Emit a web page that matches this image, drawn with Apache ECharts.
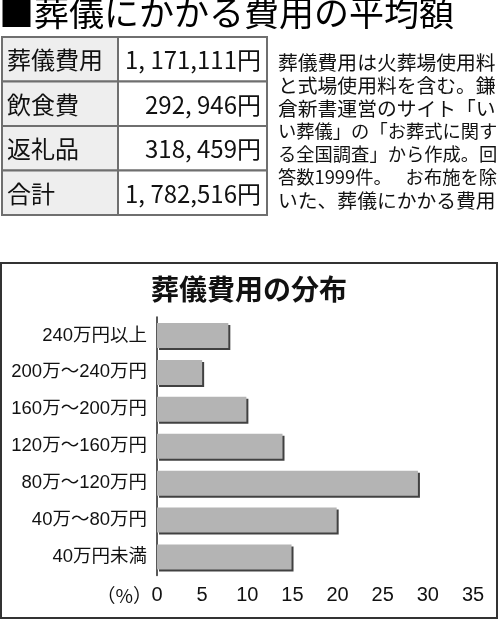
<!DOCTYPE html>
<html lang="ja">
<head>
<meta charset="utf-8">
<title>葬儀にかかる費用の平均額</title>
<script src="https://cdn.jsdelivr.net/npm/echarts@6/dist/echarts.min.js"></script>
<style>
  html, body { margin: 0; padding: 0; background: #fff; }
  #chart { width: 498px; height: 620px; }
</style>
</head>
<body>
<div id="chart"></div>
<script>
// 葬儀にかかる費用の平均額 + 葬儀費用の分布

const headline = '■葬儀にかかる費用の平均額';

const tableLabels = ['葬儀費用', '飲食費', '返礼品', '合計'];
const tableValues = ['1, 171,111円', '292, 946円', '318, 459円', '1, 782,516円'];

const noteLines = [
  '葬儀費用は火葬場使用料',
  'と式場使用料を含む。鎌',
  '倉新書運営のサイト「い',
  'い葬儀」の「お葬式に関す',
  'る全国調査」から作成。回',
  '答数1999件。お布施を除',
  'いた、葬儀にかかる費用'
];

const chartTitle = '葬儀費用の分布';
const categories = [
  '240万円以上',
  '200万～240万円',
  '160万～200万円',
  '120万～160万円',
  '80万～120万円',
  '40万～80万円',
  '40万円未満'
];
const shares = [7.9, 5.0, 9.9, 13.9, 28.9, 19.9, 14.9];
const xTicks = [0, 5, 10, 15, 20, 25, 30, 35];
const unitLabel = '（%）';

const JP = "'Noto Sans CJK JP'";
const LATIN = "'Liberation Sans', 'Noto Sans CJK JP'";

const chart = echarts.init(document.getElementById('chart'));

// 表（上段）
const tableTop = 37;
const rowH = 44.5;
const colX = [2, 118, 267];
const graphics = [];

tableLabels.forEach((label, i) => {
  const y = tableTop + i * rowH;
  graphics.push({
    type: 'rect',
    shape: { x: colX[0], y: y, width: colX[1] - colX[0], height: rowH },
    style: { fill: '#eeeeee', stroke: '#6f6f6f', lineWidth: 2 }
  });
  graphics.push({
    type: 'rect',
    shape: { x: colX[1], y: y, width: colX[2] - colX[1], height: rowH },
    style: { fill: '#ffffff', stroke: '#6f6f6f', lineWidth: 2 }
  });
  graphics.push({
    type: 'text',
    x: 7, y: y + rowH / 2 + 1,
    style: { text: label, font: '24px ' + JP, fill: '#111', align: 'left', verticalAlign: 'middle' }
  });
  graphics.push({
    type: 'text',
    x: 261, y: y + rowH / 2 + 1,
    style: { text: tableValues[i], font: '24px ' + JP, fill: '#111', align: 'right', verticalAlign: 'middle' }
  });
});

// 注記：行末をそろえる（短い行は句点で分けて右寄せ）
const noteLeft = 278, noteRight = 497;
const measureCtx = document.createElement('canvas').getContext('2d');
noteLines.forEach((line, i) => {
  const size = line.length > 11 ? 18.3 : 19.8;
  const font = size + 'px ' + JP;
  const y = 62 + i * 23.05;
  measureCtx.font = font;
  const w = measureCtx.measureText(line).width;
  const cut = line.indexOf('。') + 1;
  if (noteRight - noteLeft - w > 8 && cut > 0 && cut < line.length) {
    graphics.push({
      type: 'text', x: noteLeft, y: y,
      style: { text: line.slice(0, cut), font: font, fill: '#111', align: 'left', verticalAlign: 'middle' }
    });
    graphics.push({
      type: 'text', x: noteRight, y: y,
      style: { text: line.slice(cut), font: font, fill: '#111', align: 'right', verticalAlign: 'middle' }
    });
  } else {
    graphics.push({
      type: 'text', x: noteLeft, y: y,
      style: { text: line, font: font, fill: '#111', align: 'left', verticalAlign: 'middle' }
    });
  }
});

graphics.push({
  type: 'text',
  x: -1, y: 13,
  style: { text: headline, font: '35px ' + JP, fill: '#000', align: 'left', verticalAlign: 'middle' }
});

// 下段の枠とタイトル
graphics.push({
  type: 'rect',
  shape: { x: 1, y: 263, width: 496, height: 355 },
  style: { fill: null, stroke: '#333', lineWidth: 2 }
});
graphics.push({
  type: 'text',
  x: 249, y: 289,
  style: { text: chartTitle, font: 'bold 28px ' + JP, fill: '#111', align: 'center', verticalAlign: 'middle' }
});
// 単位ラベル（目盛り行の左）
graphics.push({
  type: 'text',
  x: 152, y: 596,
  style: { text: unitLabel, font: '19px ' + JP, fill: '#111', align: 'right', verticalAlign: 'middle' }
});

const option = {
  backgroundColor: '#fff',
  animation: false,
  graphic: graphics,
  grid: { left: 157, top: 317, width: 316, height: 258.5 },
  xAxis: {
    type: 'value',
    min: xTicks[0],
    max: xTicks[xTicks.length - 1],
    interval: xTicks[1] - xTicks[0],
    axisLine: { show: false },
    axisTick: { show: false },
    splitLine: { show: false },
    axisLabel: { margin: 10, color: '#111', fontSize: 20, fontFamily: LATIN }
  },
  yAxis: {
    type: 'category',
    data: categories,
    inverse: true,
    axisLine: { show: true, lineStyle: { color: '#222', width: 1.5 } },
    axisTick: { show: false },
    axisLabel: { margin: 10, color: '#111', fontSize: 18.5, fontFamily: LATIN }
  },
  series: [
    {
      name: chartTitle,
      type: 'bar',
      data: shares,
      barWidth: 25,
      itemStyle: {
        color: '#b4b4b4',
        shadowColor: 'rgba(55,55,55,0.95)',
        shadowOffsetX: 2,
        shadowOffsetY: 2,
        shadowBlur: 0
      }
    }
  ]
};

chart.setOption(option);
</script>
</body>
</html>
